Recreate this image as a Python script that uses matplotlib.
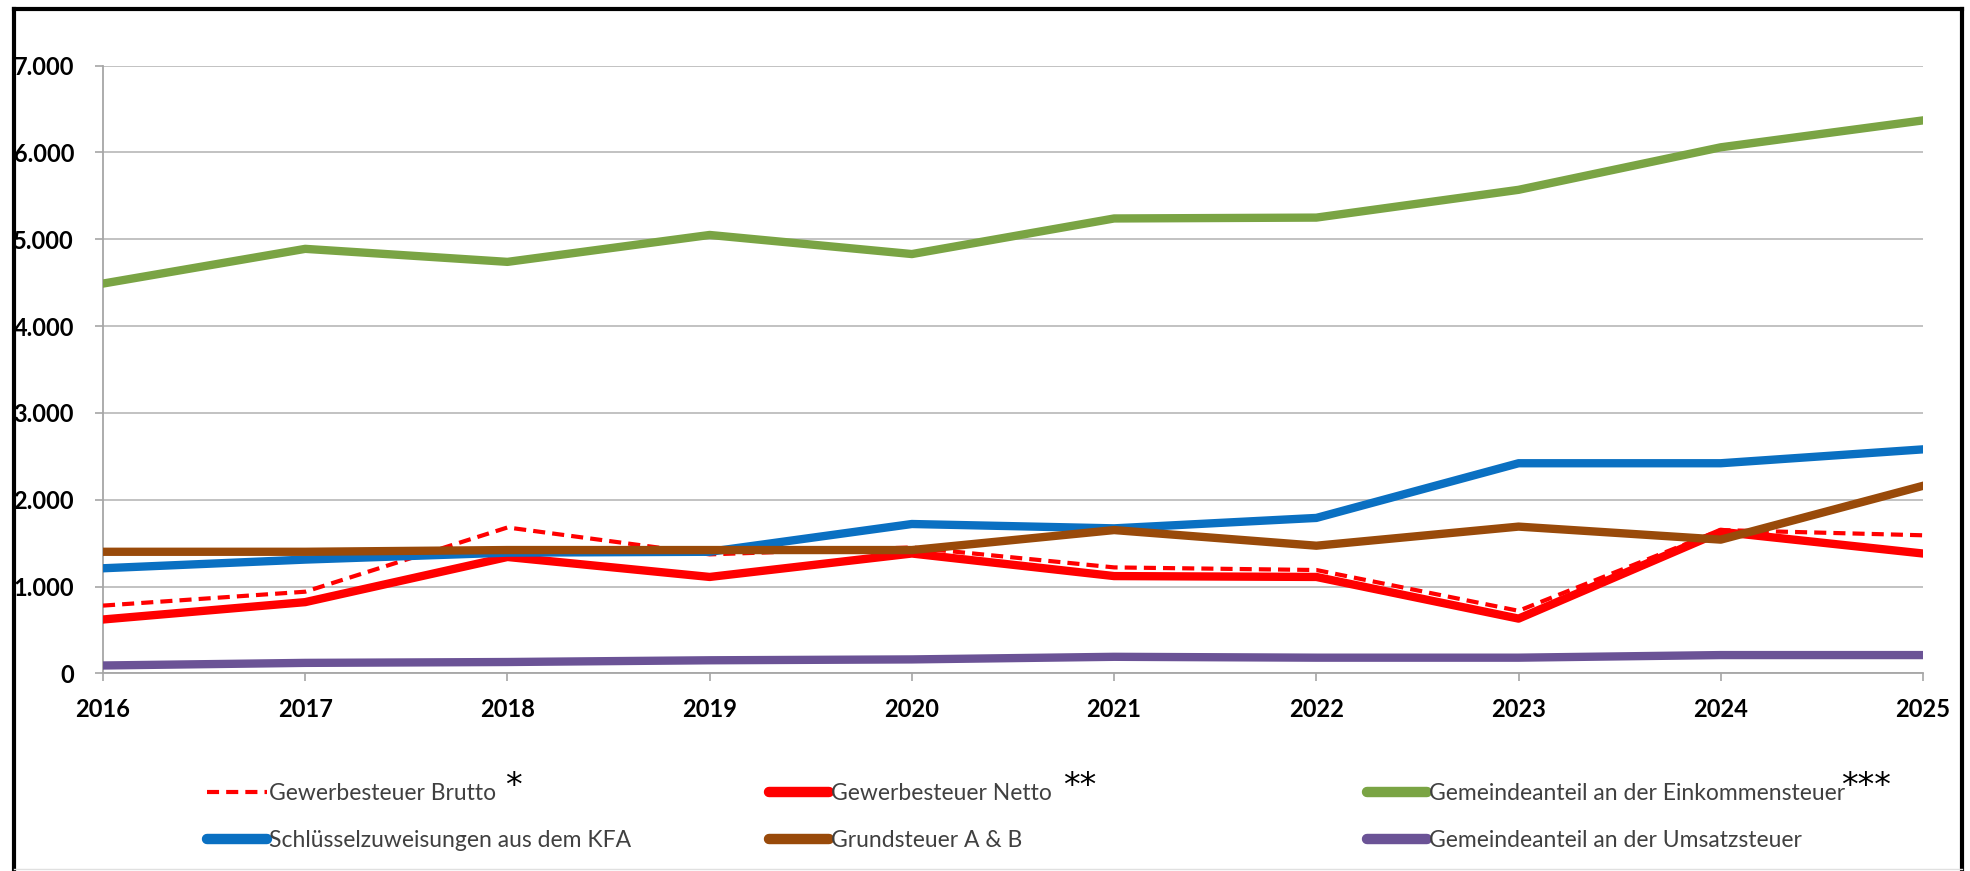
import matplotlib
matplotlib.use("Agg")
import matplotlib.pyplot as plt
from matplotlib.lines import Line2D

years = [2016, 2017, 2018, 2019, 2020, 2021, 2022, 2023, 2024, 2025]
brutto = [780, 940, 1680, 1370, 1450, 1220, 1190, 720, 1650, 1590]
netto = [620, 820, 1340, 1110, 1380, 1120, 1110, 630, 1630, 1380]
einkommen = [4490, 4890, 4740, 5050, 4830, 5240, 5250, 5570, 6060, 6370]
schluessel = [1210, 1310, 1390, 1400, 1720, 1670, 1790, 2420, 2420, 2580]
grund = [1400, 1400, 1420, 1420, 1420, 1650, 1470, 1690, 1540, 2160]
umsatz = [90, 120, 130, 150, 160, 190, 180, 180, 210, 210]

labels = ["Gewerbesteuer Brutto", "Gewerbesteuer Netto",
          "Gemeindeanteil an der Einkommensteuer",
          "Schlüsselzuweisungen aus dem KFA", "Grundsteuer A & B",
          "Gemeindeanteil an der Umsatzsteuer"]
yticks = [0, 1000, 2000, 3000, 4000, 5000, 6000, 7000]
ytick_labels = ["0", "1.000", "2.000", "3.000", "4.000", "5.000", "6.000", "7.000"]

c_red = "#FF0000"
c_green = "#7AA444"
c_blue = "#0A70C2"
c_brown = "#994A0A"
c_purple = "#6B5396"

plt.rcParams['font.family'] = ['Lato', 'DejaVu Sans']

W, H = 1970, 871
fig = plt.figure(figsize=(W / 100, H / 100), dpi=100)
ax = fig.add_axes([103 / W, 1 - 673.3 / H, (1923 - 103) / W, (673.3 - 65.7) / H])

lw = 6.0
ax.plot(years, brutto, color=c_red, lw=3.0, linestyle=(0, (2.9, 1.7)), zorder=3)
ax.plot(years, netto, color=c_red, lw=lw, solid_joinstyle='round', zorder=4)
ax.plot(years, einkommen, color=c_green, lw=lw, solid_joinstyle='round', zorder=5)
ax.plot(years, schluessel, color=c_blue, lw=lw, solid_joinstyle='round', zorder=6)
ax.plot(years, grund, color=c_brown, lw=lw, solid_joinstyle='round', zorder=7)
ax.plot(years, umsatz, color=c_purple, lw=lw, solid_joinstyle='round', zorder=8)

ax.set_xlim(years[0], years[-1])
ax.set_ylim(0, 7000)
ax.set_xticks(years)
ax.set_xticklabels([str(y) for y in years], fontsize=17, fontweight='bold')
ax.set_yticks(yticks)
ax.set_yticklabels(ytick_labels, fontsize=17, fontweight='bold')
ax.tick_params(axis='both', direction='out', length=5.8, width=1.2, color='#A6A6A6')
ax.tick_params(axis='y', pad=15)
ax.tick_params(axis='x', pad=12)
ax.grid(axis='y', color='#BDBDBD', lw=1.3, zorder=0)
for s in ['top', 'right']:
    ax.spines[s].set_visible(False)
for s in ['left', 'bottom']:
    ax.spines[s].set_color('#A6A6A6')
    ax.spines[s].set_linewidth(1.3)

# legend: three columns of two rows
def h(color, ls='-', w=7.5):
    return Line2D([0], [0], color=color, lw=w, linestyle=ls, solid_capstyle='round')

cols = [
    (207, [h(c_red, (0, (2.9, 1.7)), 3.0), h(c_blue)], [labels[0], labels[3]]),
    (769, [h(c_red), h(c_brown)], [labels[1], labels[4]]),
    (1367, [h(c_green), h(c_purple)], [labels[2], labels[5]]),
]
for x0, hs, ls in cols:
    fig.legend(hs, ls, loc='center left', bbox_to_anchor=(x0 / W, 1 - 817 / H),
               frameon=False, fontsize=16.5, handlelength=2.6, handletextpad=0.1,
               borderpad=0, borderaxespad=0, labelspacing=1.15, labelcolor='#404040')

for x, s in [(513, "*"), (1080, "**"), (1866, "***")]:
    fig.text(x / W, 1 - 786 / H, s, fontsize=24, ha='center', va='center',
             family='DejaVu Sans', color='black')

# outer frame
fig.add_artist(Line2D([14 / W, 14 / W], [0, 1 - 9 / H], color='black', lw=3, transform=fig.transFigure))
fig.add_artist(Line2D([14 / W, 1962 / W], [1 - 9 / H, 1 - 9 / H], color='black', lw=3, transform=fig.transFigure))
fig.add_artist(Line2D([1962 / W, 1962 / W], [0, 1 - 9 / H], color='black', lw=3, transform=fig.transFigure))
fig.add_artist(Line2D([14 / W, 1962 / W], [2 / H, 2 / H], color='#E0E0E0', lw=1, transform=fig.transFigure))

fig.savefig("out.png", dpi=100)
